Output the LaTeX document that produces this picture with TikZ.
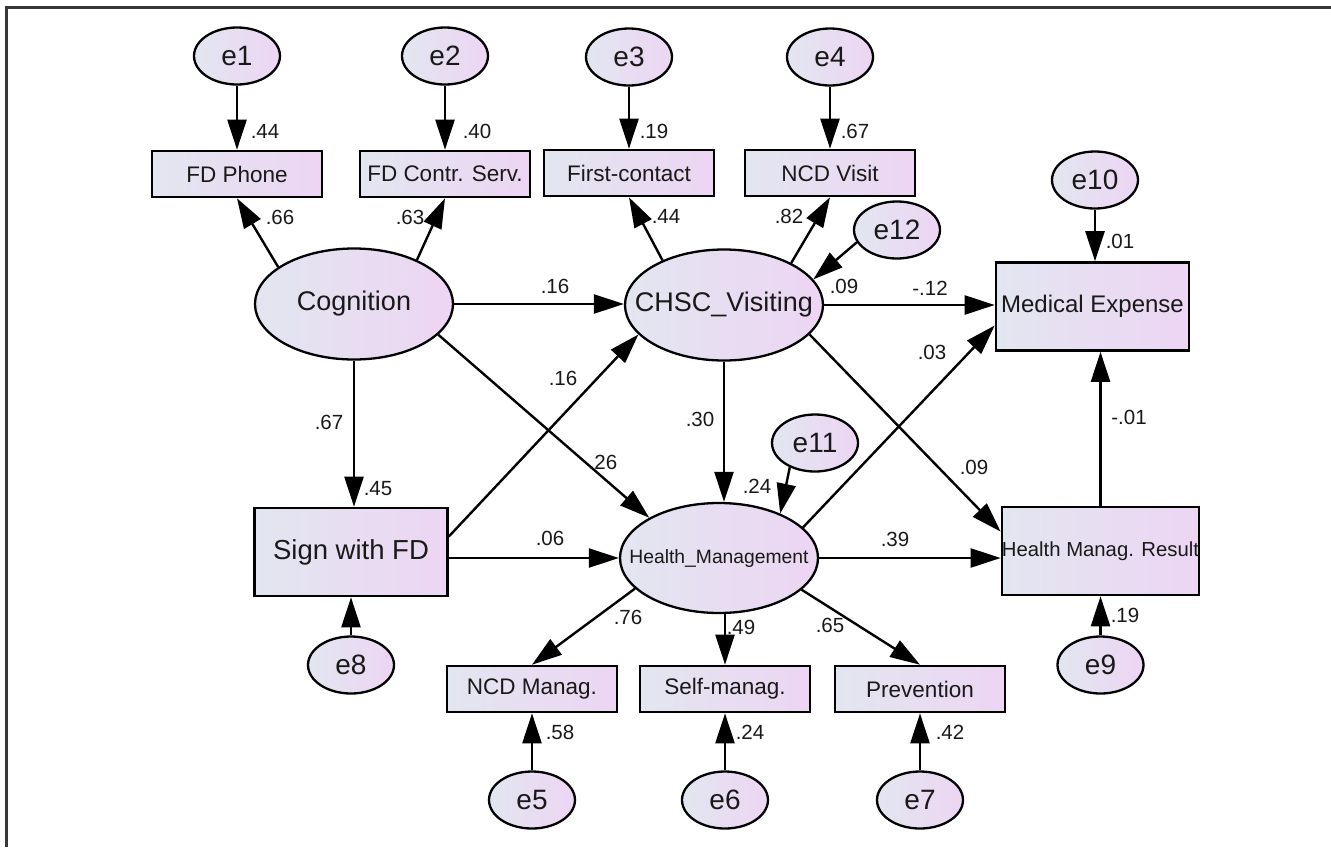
\documentclass[tikz,border=0pt]{standalone}
\usepackage{fontspec}
\setmainfont{Liberation Sans}
\usetikzlibrary{shapes.geometric,arrows.meta,calc}
\definecolor{gl}{RGB}{226,230,240}
\definecolor{gr}{RGB}{237,213,243}
\definecolor{framec}{RGB}{55,55,55}
\definecolor{txt}{RGB}{25,25,25}
\begin{document}
\begin{tikzpicture}[x=1pt,y=-1pt,
  lat/.style={ellipse, draw, line width=2.3pt, left color=gl, right color=gr, text=txt, inner xsep=-70pt, inner ysep=-12pt, minimum width=198pt, minimum height=111pt, font=\fontsize{27}{30}\selectfont},
  err/.style={ellipse, draw, line width=2.3pt, left color=gl, right color=gr, text=txt, inner xsep=-8pt, inner ysep=0pt, minimum width=86pt, minimum height=57pt, font=\fontsize{28}{30}\selectfont},
  obs/.style={rectangle, draw, line width=2.6pt, left color=gl, right color=gr, text=txt, inner sep=0pt, minimum width=170pt, minimum height=46pt, font=\fontsize{22.5}{25}\selectfont},
  bigobs/.style={obs, minimum width=193pt, minimum height=88pt},
  arr/.style={line width=2.4pt, -{Triangle[length=30pt,width=19pt]}},
  lab/.style={font=\fontsize{20.5}{22}\selectfont, text=txt, inner sep=0pt},
]
\useasboundingbox (0,0) rectangle (1331,847);
\fill[white] (0,0) rectangle (1331,847);
\draw[framec, line width=2.5pt] (6.5,847) -- (6.5,7.5) -- (1331,7.5);

% error terms top
\node[err] (e1) at (237,56) {e1};
\node[err] (e2) at (445,56) {e2};
\node[err] (e3) at (629,57) {e3};
\node[err] (e4) at (830,57) {e4};
% top indicators
\node[obs] (fdp) at (237,174) {FD Phone};
\node[obs] (fdc) at (445,174) {FD Contr. Serv.};
\node[obs] (fc) at (629,173) {First-contact};
\node[obs] (ncdv) at (830,173) {NCD Visit};
% right
\node[err] (e10) at (1095,180) {e10};
\node[bigobs, font=\fontsize{24}{27}\selectfont] (me) at (1092.5,306.5) {Medical Expense};
\node[err] (e12) at (897,230) {e12};
% latent
\node[lat] (cog) at (354,304) {Cognition};
\node[lat] (chsc) at (724,305) {CHSC\_Visiting};
\node[bigobs, font=\fontsize{27.5}{30}\selectfont] (sign) at (351,552) {Sign with FD};
\node[err] (e8) at (351,665) {e8};
\node[err] (e11) at (815,443) {e11};
\node[lat, font=\fontsize{19.3}{22}\selectfont, minimum height=110pt] (hm) at (719,558) {Health\_Management};
\node[bigobs, font=\fontsize{20.3}{22}\selectfont] (hmr) at (1100.5,551) {Health Manag. Result};
\node[err] (e9) at (1100.5,665) {e9};
% bottom
\node[obs] (ncdm) at (532,689) {NCD Manag.};
\node[obs] (selfm) at (725,689) {Self-manag.};
\node[obs] (prev) at (920,689) {Prevention};
\node[err] (e5) at (532,800) {e5};
\node[err] (e6) at (725,800) {e6};
\node[err] (e7) at (920,800) {e7};

% connectors
\draw[arr] (e1) -- (fdp);
\draw[arr] (e2) -- (fdc);
\draw[arr] (e3) -- (fc);
\draw[arr] (e4) -- (ncdv);
\draw[arr] (cog.154) -- (fdp.south);
\draw[arr] (cog.35) -- (fdc.south);
\draw[arr] (chsc.144) -- (fc.south);
\draw[arr] (chsc.32) -- (ncdv.south);
\draw[arr] (e12.197) -- (chsc.16);
\draw[arr] (e10.south) -- (e10.south |- me.north);
\draw[arr] (cog.east) -- (cog.east -| chsc.west);
\draw[arr] (chsc.east) -- (chsc.east -| me.west);
\draw[arr] (sign.9) -- (chsc.199);
\draw[arr] (cog.340) -- (hm.150);
\draw[arr] (cog.south) -- (cog.south |- sign.north);
\draw[arr] (chsc.south) -- (chsc.south |- hm.north);
\draw[arr] (e11.224) -- (hm.36);
\draw[arr] (hm.20) -- (me.191);
\draw[arr] (chsc.341) -- (hmr.169);
\draw[arr] (sign.east |- hm.west) -- (hm.west);
\draw[arr] (hm.east) -- (hm.east -| hmr.west);
\draw[arr] (hmr.north) -- (hmr.north |- me.south);
\draw[arr] (e9) -- (hmr);
\draw[arr] (e8) -- (sign);
\draw[arr] (hm.200) -- (ncdm.north);
\draw[arr] (selfm.north |- hm.south) -- (selfm.north);
\draw[arr] (hm.339) -- (prev.north);
\draw[arr] (e5) -- (ncdm);
\draw[arr] (e6) -- (selfm);
\draw[arr] (e7) -- (prev);

% labels
\node[lab] (l1) at (265,131) {.44};
\node[lab] (l2) at (477,131) {.40};
\node[lab] (l3) at (654,131) {.19};
\node[lab] (l4) at (855,131) {.67};
\node[lab] (l5) at (280,217) {.66};
\node[lab] (l6) at (410,217) {.63};
\node[lab] (l7) at (666,216) {.44};
\node[lab] (l8) at (789,216) {.82};
\node[lab] (l9) at (844,286) {.09};
\node[lab] (l10) at (930,288) {-.12};
\node[lab] (l11) at (1120,241) {.01};
\node[lab] (l12) at (555,286) {.16};
\node[lab] (l13) at (563,378) {.16};
\node[lab] (l14) at (329,422) {.67};
\node[lab] (l15) at (378,489) {.45};
\node[lab] (l16) at (700,419) {.30};
\node[lab] (l17) at (603,462) {.26};
\node[lab] (l18) at (757,486) {.24};
\node[lab] (l19) at (932,352) {.03};
\node[lab] (l20) at (974,467) {.09};
\node[lab] (l21) at (895,539) {.39};
\node[lab] (l22) at (550,538) {.06};
\node[lab] (l23) at (1129,417) {-.01};
\node[lab] (l24) at (1125,615) {.19};
\node[lab] (l25) at (628,617) {.76};
\node[lab] (l26) at (741,627) {.49};
\node[lab] (l27) at (830,625) {.65};
\node[lab] (l28) at (560,732) {.58};
\node[lab] (l29) at (750,732) {.24};
\node[lab] (l30) at (950,732) {.42};
\end{tikzpicture}
\end{document}
